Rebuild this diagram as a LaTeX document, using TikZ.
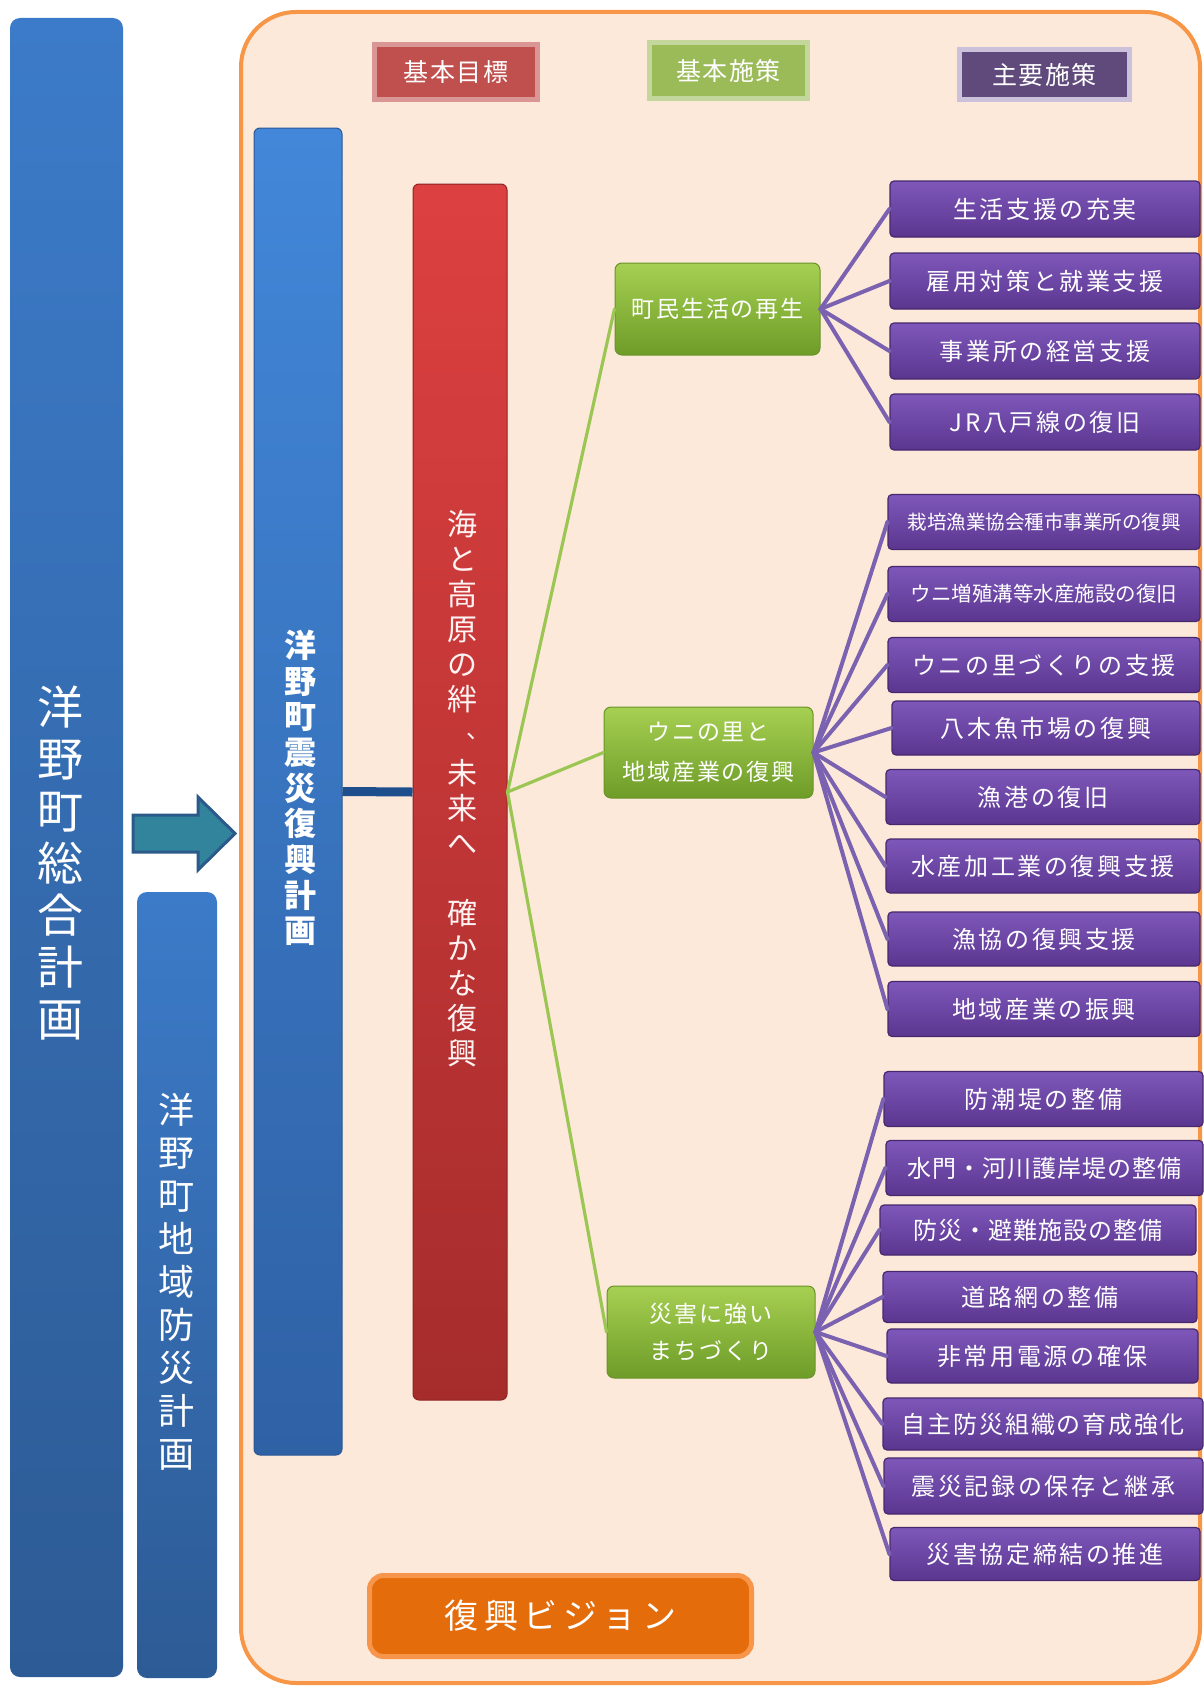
\documentclass[tikz,border=0pt]{standalone}
\usepackage{fontspec}
\setmainfont{Noto Sans CJK JP}
\definecolor{framefill}{HTML}{FDE9DA}
\definecolor{frameline}{HTML}{F79646}
\definecolor{hredfill}{HTML}{C0504D}
\definecolor{hredline}{HTML}{D99694}
\definecolor{hgreenfill}{HTML}{9BBB59}
\definecolor{hgreenline}{HTML}{C3D69B}
\definecolor{hpurpfill}{HTML}{5F4A7B}
\definecolor{hpurpline}{HTML}{CCC1DA}
\definecolor{lbtop}{HTML}{3C7BC9}
\definecolor{lbbot}{HTML}{2D5B95}
\definecolor{bbtop}{HTML}{4287D9}
\definecolor{bbbot}{HTML}{2F61A5}
\definecolor{bbline}{HTML}{2A5896}
\definecolor{rbtop}{HTML}{DD4040}
\definecolor{rbbot}{HTML}{A62C2C}
\definecolor{rbline}{HTML}{8E2424}
\definecolor{gtop}{HTML}{A6D052}
\definecolor{gbot}{HTML}{6E9C28}
\definecolor{gline}{HTML}{6A9428}
\definecolor{ptop}{HTML}{7E57BA}
\definecolor{pbot}{HTML}{5B368F}
\definecolor{pline}{HTML}{46296C}
\definecolor{pconn}{HTML}{7B62B0}
\definecolor{gconn}{HTML}{9CC653}
\definecolor{darkconn}{HTML}{1F4E8C}
\definecolor{arrowfill}{HTML}{31849B}
\definecolor{arrowline}{HTML}{2B5A8A}
\definecolor{visfill}{HTML}{E46C0A}
\definecolor{visline}{HTML}{F7964A}
\begin{document}
\begin{tikzpicture}[x=1pt,y=-1pt,
  header/.style={rectangle, line width=5pt, inner sep=0pt, text=white,
    font=\fontsize{25}{30}\selectfont\addfontfeatures{LetterSpace=6}},
  leftbar/.style={rectangle, rounded corners=10pt, inner sep=0pt, top color=lbtop, bottom color=lbbot, draw=none},
  bluebar/.style={rectangle, rounded corners=6pt, inner sep=0pt, top color=bbtop, bottom color=bbbot, draw=bbline, line width=1pt},
  redbar/.style={rectangle, rounded corners=6pt, inner sep=0pt, top color=rbtop, bottom color=rbbot, draw=rbline, line width=1pt},
  gbox/.style={rectangle, rounded corners=7pt, inner sep=0pt, top color=gtop, bottom color=gbot, draw=gline, line width=1pt,
    text=white, align=center},
  pbox/.style={rectangle, rounded corners=4pt, inner sep=0pt, top color=ptop, bottom color=pbot, draw=pline, line width=1.2pt,
    text=white, font=\fontsize{24}{28}\selectfont\addfontfeatures{LetterSpace=11}},
  vtext/.style={align=center, text=white, inner sep=0pt},
  redtext/.style={align=center, inner sep=0pt, text=white!95!red, font=\fontsize{30}{35}\selectfont},
  gc/.style={draw=gconn, line width=3.2pt, line cap=round},
  pc/.style={draw=pconn, line width=4pt, line cap=round}
]
\useasboundingbox (0,0) rectangle (1204,1686);

% outer frame
\draw[fill=framefill, draw=frameline, line width=4pt, rounded corners=55pt] (241,12) rectangle (1200,1683);

% left bars
\node[leftbar, minimum width=113pt, minimum height=1659pt] (sogo) at (66.5,847.5) {};
\node[vtext, font=\fontsize{46}{52}\selectfont] (sogotxt) at (60,863) {洋\\野\\町\\総\\合\\計\\画};
\node[leftbar, minimum width=80pt, minimum height=786pt] (bosai) at (177,1285) {};
\node[vtext, font=\fontsize{36}{43}\selectfont] (bosaitxt) at (176,1282) {洋\\野\\町\\地\\域\\防\\災\\計\\画};

% arrow
\draw[fill=arrowfill, draw=arrowline, line width=3pt, line join=miter]
  (133,815) -- (198,815) -- (198,797) -- (235,833.5) -- (198,870) -- (198,852) -- (133,852) -- cycle;

% headers
\node[header, fill=hredfill, draw=hredline, minimum width=163pt, minimum height=55pt] (h1) at (456,72) {基本目標};
\node[header, fill=hgreenfill, draw=hgreenline, minimum width=158pt, minimum height=56pt] (h2) at (728.5,70.5) {基本施策};
\node[header, fill=hpurpfill, draw=hpurpline, minimum width=170pt, minimum height=50pt] (h3) at (1044.5,74.5) {主要施策};

% main bars
\node[bluebar, minimum width=88pt, minimum height=1327pt] (plan) at (298,791.5) {};
\node[vtext, font=\bfseries\fontsize{32}{35.7}\selectfont] (plantxt) at (300,788) {洋\\野\\町\\震\\災\\復\\興\\計\\画};
\node[redbar, minimum width=94pt, minimum height=1216pt] (goal) at (460,792) {};
\node[redtext] (goaltxt1) at (462,612) {海\\と\\高\\原\\の\\絆};
\node[redtext, anchor=base west, font=\fontsize{24}{28}\selectfont] (comma) at (466,738) {、};
\node[redtext] (goaltxt2) at (462,913) {未\\来\\へ\\\mbox{}\\確\\か\\な\\復\\興};

\draw[draw=darkconn, line width=9pt] (plan.east) -- (goal.west);

% basic policy boxes
\node[gbox, minimum width=205pt, minimum height=92pt, font=\fontsize{23}{28}\selectfont\addfontfeatures{LetterSpace=8}] (g1) at (717.5,309) {町民生活の再生};
\node[gbox, minimum width=209pt, minimum height=91pt, font=\fontsize{23}{40}\selectfont\addfontfeatures{LetterSpace=8}] (g2) at (708.5,752.5) {ウニの里と\\地域産業の復興};
\node[gbox, minimum width=208pt, minimum height=92pt, font=\fontsize{23}{37}\selectfont\addfontfeatures{LetterSpace=8}] (g3) at (711,1332) {災害に強い\\まちづくり};

\draw[gc] (goal.east) -- (g1.west);
\draw[gc] (goal.east) -- (g2.west);
\draw[gc] (goal.east) -- (g3.west);

% main measures group 1
\node[pbox, minimum width=310pt, minimum height=56pt] (p11) at (1045,209) {生活支援の充実};
\node[pbox, minimum width=310pt, minimum height=56pt] (p12) at (1045,281) {雇用対策と就業支援};
\node[pbox, minimum width=310pt, minimum height=56pt] (p13) at (1045,351) {事業所の経営支援};
\node[pbox, minimum width=310pt, minimum height=56pt] (p14) at (1045,422) {JR八戸線の復旧};

% group 2
\node[pbox, minimum width=312pt, minimum height=55pt, font=\fontsize{19.5}{24}\selectfont] (p21) at (1044,522) {栽培漁業協会種市事業所の復興};
\node[pbox, minimum width=312pt, minimum height=55pt, font=\fontsize{20.5}{24}\selectfont] (p22) at (1044,594) {ウニ増殖溝等水産施設の復旧};
\node[pbox, minimum width=312pt, minimum height=55pt] (p23) at (1044,665) {ウニの里づくりの支援};
\node[pbox, minimum width=308pt, minimum height=54pt] (p24) at (1046,728) {八木魚市場の復興};
\node[pbox, minimum width=314pt, minimum height=55pt] (p25) at (1043,797) {漁港の復旧};
\node[pbox, minimum width=314pt, minimum height=54pt] (p26) at (1043,866) {水産加工業の復興支援};
\node[pbox, minimum width=312pt, minimum height=54pt] (p27) at (1044,939) {漁協の復興支援};
\node[pbox, minimum width=312pt, minimum height=55pt] (p28) at (1044,1009) {地域産業の振興};

% group 3
\node[pbox, minimum width=319pt, minimum height=55pt] (p31) at (1043.5,1099) {防潮堤の整備};
\node[pbox, minimum width=317pt, minimum height=55pt, font=\fontsize{24}{28}\selectfont\addfontfeatures{LetterSpace=4}] (p32) at (1044.5,1168) {水門・河川護岸堤の整備};
\node[pbox, minimum width=316pt, minimum height=50pt, font=\fontsize{24}{28}\selectfont\addfontfeatures{LetterSpace=4}] (p33) at (1038,1230) {防災・避難施設の整備};
\node[pbox, minimum width=314pt, minimum height=51pt] (p34) at (1040,1297) {道路網の整備};
\node[pbox, minimum width=311pt, minimum height=54pt] (p35) at (1042.5,1356) {非常用電源の確保};
\node[pbox, minimum width=320pt, minimum height=52pt, font=\fontsize{24}{28}\selectfont\addfontfeatures{LetterSpace=8}] (p36) at (1043,1424) {自主防災組織の育成強化};
\node[pbox, minimum width=319pt, minimum height=56pt] (p37) at (1043.5,1486) {震災記録の保存と継承};
\node[pbox, minimum width=310pt, minimum height=53pt] (p38) at (1045,1554) {災害協定締結の推進};

% connectors to main measures
\foreach \p in {p11,p12,p13,p14} \draw[pc] (g1.east) -- (\p.west);
\foreach \p in {p21,p22,p23,p24,p25,p26,p27,p28} \draw[pc] (g2.east) -- (\p.west);
\foreach \p in {p31,p32,p33,p34,p35,p36,p37,p38} \draw[pc] (g3.east) -- (\p.west);

% vision
\node[rectangle, rounded corners=14pt, fill=visfill, draw=visline, line width=5pt, inner sep=0pt,
  minimum width=382pt, minimum height=81pt, text=white,
  font=\fontsize{34}{40}\selectfont\addfontfeatures{LetterSpace=16}] (vision) at (560.5,1616) {復興ビジョン};
\end{tikzpicture}
\end{document}
